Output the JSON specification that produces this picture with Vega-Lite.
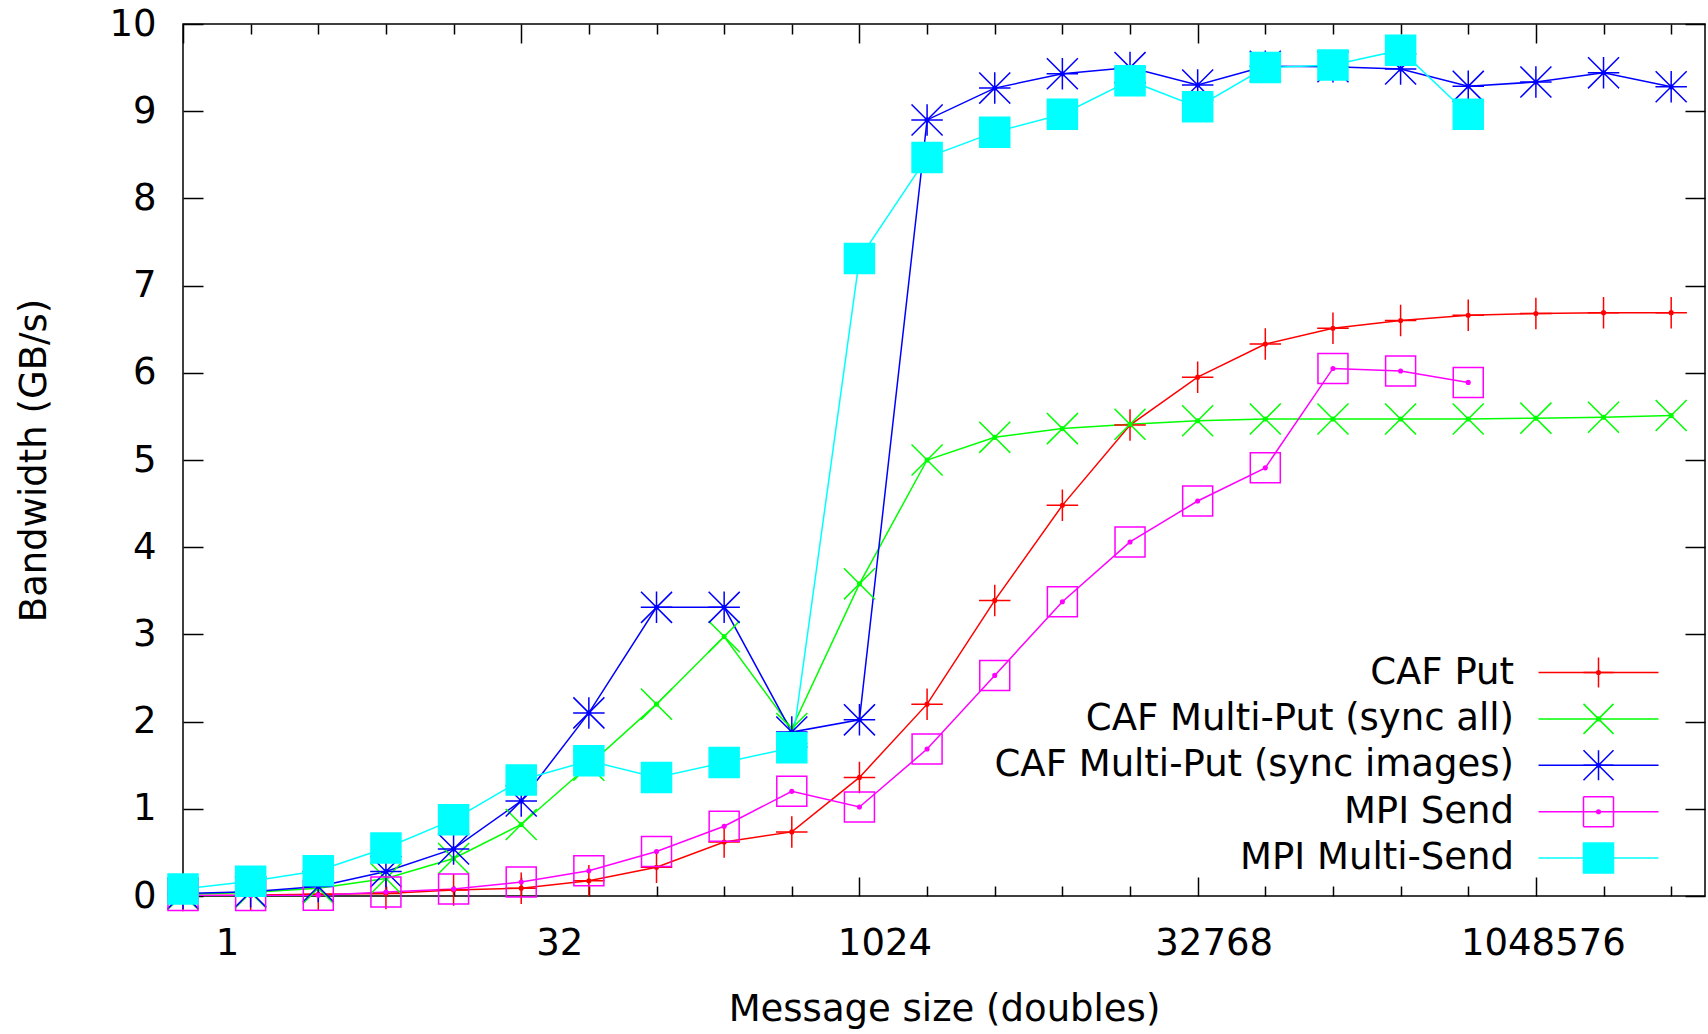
{
  "$schema": "https://vega.github.io/schema/vega-lite/v6.json",
  "width": 1522,
  "height": 872,
  "autosize": {"type": "none"},
  "padding": {"left": 183, "top": 24, "right": 3, "bottom": 138},
  "background": "white",
  "config": {
    "font": "DejaVu Sans",
    "view": {"stroke": "black", "strokeWidth": 1.5},
    "axis": {
      "labelFont": "DejaVu Sans", "labelFontSize": 37, "labelColor": "black",
      "titleFont": "DejaVu Sans", "titleFontSize": 37, "titleFontWeight": "normal", "titleColor": "black",
      "tickColor": "black", "tickWidth": 1.5, "domain": false, "grid": false, "labelOverlap": false
    }
  },
  "datasets": {
    "bw": [
      {"size":1,"series":"CAF Put","bw":0.005},{"size":2,"series":"CAF Put","bw":0.01},{"size":4,"series":"CAF Put","bw":0.02},{"size":8,"series":"CAF Put","bw":0.03},{"size":16,"series":"CAF Put","bw":0.07},{"size":32,"series":"CAF Put","bw":0.09},{"size":64,"series":"CAF Put","bw":0.175},{"size":128,"series":"CAF Put","bw":0.33},{"size":256,"series":"CAF Put","bw":0.62},{"size":512,"series":"CAF Put","bw":0.735},{"size":1024,"series":"CAF Put","bw":1.36},{"size":2048,"series":"CAF Put","bw":2.2},{"size":4096,"series":"CAF Put","bw":3.39},{"size":8192,"series":"CAF Put","bw":4.48},{"size":16384,"series":"CAF Put","bw":5.4},{"size":32768,"series":"CAF Put","bw":5.95},{"size":65536,"series":"CAF Put","bw":6.33},{"size":131072,"series":"CAF Put","bw":6.51},{"size":262144,"series":"CAF Put","bw":6.6},{"size":524288,"series":"CAF Put","bw":6.66},{"size":1048576,"series":"CAF Put","bw":6.68},{"size":2097152,"series":"CAF Put","bw":6.69},{"size":4194304,"series":"CAF Put","bw":6.69},
      {"size":1,"series":"CAF Multi-Put (sync all)","bw":0.02},{"size":2,"series":"CAF Multi-Put (sync all)","bw":0.04},{"size":4,"series":"CAF Multi-Put (sync all)","bw":0.09},{"size":8,"series":"CAF Multi-Put (sync all)","bw":0.2},{"size":16,"series":"CAF Multi-Put (sync all)","bw":0.43},{"size":32,"series":"CAF Multi-Put (sync all)","bw":0.82},{"size":64,"series":"CAF Multi-Put (sync all)","bw":1.5},{"size":128,"series":"CAF Multi-Put (sync all)","bw":2.2},{"size":256,"series":"CAF Multi-Put (sync all)","bw":2.975},{"size":512,"series":"CAF Multi-Put (sync all)","bw":1.92},{"size":1024,"series":"CAF Multi-Put (sync all)","bw":3.58},{"size":2048,"series":"CAF Multi-Put (sync all)","bw":5.0},{"size":4096,"series":"CAF Multi-Put (sync all)","bw":5.26},{"size":8192,"series":"CAF Multi-Put (sync all)","bw":5.36},{"size":16384,"series":"CAF Multi-Put (sync all)","bw":5.41},{"size":32768,"series":"CAF Multi-Put (sync all)","bw":5.45},{"size":65536,"series":"CAF Multi-Put (sync all)","bw":5.47},{"size":131072,"series":"CAF Multi-Put (sync all)","bw":5.47},{"size":262144,"series":"CAF Multi-Put (sync all)","bw":5.47},{"size":524288,"series":"CAF Multi-Put (sync all)","bw":5.47},{"size":1048576,"series":"CAF Multi-Put (sync all)","bw":5.48},{"size":2097152,"series":"CAF Multi-Put (sync all)","bw":5.49},{"size":4194304,"series":"CAF Multi-Put (sync all)","bw":5.51},
      {"size":1,"series":"CAF Multi-Put (sync images)","bw":0.03},{"size":2,"series":"CAF Multi-Put (sync images)","bw":0.05},{"size":4,"series":"CAF Multi-Put (sync images)","bw":0.11},{"size":8,"series":"CAF Multi-Put (sync images)","bw":0.28},{"size":16,"series":"CAF Multi-Put (sync images)","bw":0.54},{"size":32,"series":"CAF Multi-Put (sync images)","bw":1.09},{"size":64,"series":"CAF Multi-Put (sync images)","bw":2.1},{"size":128,"series":"CAF Multi-Put (sync images)","bw":3.31},{"size":256,"series":"CAF Multi-Put (sync images)","bw":3.31},{"size":512,"series":"CAF Multi-Put (sync images)","bw":1.88},{"size":1024,"series":"CAF Multi-Put (sync images)","bw":2.02},{"size":2048,"series":"CAF Multi-Put (sync images)","bw":8.9},{"size":4096,"series":"CAF Multi-Put (sync images)","bw":9.265},{"size":8192,"series":"CAF Multi-Put (sync images)","bw":9.43},{"size":16384,"series":"CAF Multi-Put (sync images)","bw":9.5},{"size":32768,"series":"CAF Multi-Put (sync images)","bw":9.3},{"size":65536,"series":"CAF Multi-Put (sync images)","bw":9.515},{"size":131072,"series":"CAF Multi-Put (sync images)","bw":9.51},{"size":262144,"series":"CAF Multi-Put (sync images)","bw":9.485},{"size":524288,"series":"CAF Multi-Put (sync images)","bw":9.285},{"size":1048576,"series":"CAF Multi-Put (sync images)","bw":9.335},{"size":2097152,"series":"CAF Multi-Put (sync images)","bw":9.44},{"size":4194304,"series":"CAF Multi-Put (sync images)","bw":9.28},
      {"size":1,"series":"MPI Send","bw":0.005},{"size":2,"series":"MPI Send","bw":0.005},{"size":4,"series":"MPI Send","bw":0.01},{"size":8,"series":"MPI Send","bw":0.045},{"size":16,"series":"MPI Send","bw":0.08},{"size":32,"series":"MPI Send","bw":0.16},{"size":64,"series":"MPI Send","bw":0.29},{"size":128,"series":"MPI Send","bw":0.51},{"size":256,"series":"MPI Send","bw":0.8},{"size":512,"series":"MPI Send","bw":1.2},{"size":1024,"series":"MPI Send","bw":1.02},{"size":2048,"series":"MPI Send","bw":1.685},{"size":4096,"series":"MPI Send","bw":2.53},{"size":8192,"series":"MPI Send","bw":3.375},{"size":16384,"series":"MPI Send","bw":4.06},{"size":32768,"series":"MPI Send","bw":4.53},{"size":65536,"series":"MPI Send","bw":4.91},{"size":131072,"series":"MPI Send","bw":6.05},{"size":262144,"series":"MPI Send","bw":6.02},{"size":524288,"series":"MPI Send","bw":5.89},
      {"size":1,"series":"MPI Multi-Send","bw":0.08},{"size":2,"series":"MPI Multi-Send","bw":0.17},{"size":4,"series":"MPI Multi-Send","bw":0.29},{"size":8,"series":"MPI Multi-Send","bw":0.55},{"size":16,"series":"MPI Multi-Send","bw":0.875},{"size":32,"series":"MPI Multi-Send","bw":1.33},{"size":64,"series":"MPI Multi-Send","bw":1.55},{"size":128,"series":"MPI Multi-Send","bw":1.36},{"size":256,"series":"MPI Multi-Send","bw":1.53},{"size":512,"series":"MPI Multi-Send","bw":1.7},{"size":1024,"series":"MPI Multi-Send","bw":7.31},{"size":2048,"series":"MPI Multi-Send","bw":8.47},{"size":4096,"series":"MPI Multi-Send","bw":8.76},{"size":8192,"series":"MPI Multi-Send","bw":8.965},{"size":16384,"series":"MPI Multi-Send","bw":9.35},{"size":32768,"series":"MPI Multi-Send","bw":9.05},{"size":65536,"series":"MPI Multi-Send","bw":9.5},{"size":131072,"series":"MPI Multi-Send","bw":9.53},{"size":262144,"series":"MPI Multi-Send","bw":9.7},{"size":524288,"series":"MPI Multi-Send","bw":8.965}
    ]
  },
  "data": {"name": "bw"},
  "layer": [
    {
      "mark": {"type": "line", "strokeWidth": 1.5, "clip": true},
      "encoding": {
        "x": {
          "field": "size", "type": "quantitative",
          "scale": {"type": "log", "base": 2, "domain": [1, 5931642], "nice": false},
          "axis": {
            "orient": "bottom",
            "values": [1,2,4,8,16,32,64,128,256,512,1024,2048,4096,8192,16384,32768,65536,131072,262144,524288,1048576,2097152,4194304],
            "labelExpr": "indexof([1,32,1024,32768,1048576], datum.value) >= 0 ? format(datum.value, 'd') : ''",
            "tickSize": {"condition": {"test": "indexof([1,32,1024,32768,1048576], datum.value) >= 0", "value": -19}, "value": -10},
            "labelPadding": 48,
            "labelFlush": false,
            "labelOffset": {"condition": [
              {"test": "datum.value == 1", "value": 44},
              {"test": "datum.value == 32", "value": 38},
              {"test": "datum.value == 1024", "value": 25},
              {"test": "datum.value == 32768", "value": 16}
            ], "value": 7},
            "title": "Message size (doubles)",
            "titlePadding": 21
          }
        },
        "y": {
          "field": "bw", "type": "quantitative",
          "scale": {"domain": [0, 10], "nice": false},
          "axis": {
            "orient": "left",
            "values": [0,1,2,3,4,5,6,7,8,9,10],
            "format": "d",
            "tickSize": -20,
            "labelPadding": 47,
            "title": "Bandwidth (GB/s)",
            "titlePadding": 55
          }
        },
        "color": {
          "field": "series", "type": "nominal",
          "scale": {
            "domain": ["CAF Put", "CAF Multi-Put (sync all)", "CAF Multi-Put (sync images)", "MPI Send", "MPI Multi-Send"],
            "range": ["#ff0000", "#00ff00", "#0000ff", "#ff00ff", "#00ffff"]
          },
          "legend": {
            "orient": "none", "legendX": 1397, "legendY": 630, "title": null,
            "symbolType": "M-4,0L4,0", "symbolSize": 900, "symbolStrokeWidth": 1.5,
            "labelAlign": "right", "labelOffset": -103, "labelFontSize": 37, "labelFont": "DejaVu Sans",
            "labelColor": "black", "labelLimit": 1000, "rowPadding": 8.4, "padding": 0
          }
        }
      }
    },
    {
      "mark": {"type": "point", "strokeWidth": 1.5, "size": 900, "opacity": 1, "clip": false, "strokeCap": "square"},
      "encoding": {
        "x": {
          "field": "size", "type": "quantitative",
          "axis": {
            "orient": "top",
            "values": [1,2,4,8,16,32,64,128,256,512,1024,2048,4096,8192,16384,32768,65536,131072,262144,524288,1048576,2097152,4194304],
            "labels": false,
            "tickSize": {"condition": {"test": "indexof([1,32,1024,32768,1048576], datum.value) >= 0", "value": -19}, "value": -10},
            "title": null
          }
        },
        "y": {
          "field": "bw", "type": "quantitative",
          "axis": {"orient": "right", "values": [0,1,2,3,4,5,6,7,8,9,10], "labels": false, "tickSize": -20, "title": null}
        },
        "shape": {
          "field": "series", "type": "nominal",
          "scale": {
            "domain": ["CAF Put", "CAF Multi-Put (sync all)", "CAF Multi-Put (sync images)", "MPI Send", "MPI Multi-Send", " "],
            "range": [
              "M-1,0L1,0M0,-1L0,1M0.12,0A0.12,0.12,0,1,1,-0.12,0A0.12,0.12,0,1,1,0.12,0Z",
              "M-1,-1L1,1M-1,1L1,-1M0.12,0A0.12,0.12,0,1,1,-0.12,0A0.12,0.12,0,1,1,0.12,0Z",
              "M-1,0L1,0M0,-1L0,1M-1,-1L1,1M-1,1L1,-1M0.12,0A0.12,0.12,0,1,1,-0.12,0A0.12,0.12,0,1,1,0.12,0Z",
              "M-1,-1L1,-1M1,-1L1,1M1,1L-1,1M-1,1L-1,-1M0.12,0A0.12,0.12,0,1,1,-0.12,0A0.12,0.12,0,1,1,0.12,0Z",
              "M-1,-1L1,-1L1,1L-1,1Z",
              "M0,0"
            ]
          },
          "legend": {
            "orient": "none", "legendX": 1397, "legendY": 630, "title": null,
            "symbolSize": 900, "symbolStrokeWidth": 1.5,
            "labelAlign": "right", "labelOffset": -103, "labelFontSize": 37, "labelFont": "DejaVu Sans",
            "labelOpacity": 0, "labelLimit": 1000, "rowPadding": 8.4, "padding": 0
          }
        },
        "fill": {
          "field": "series", "type": "nominal",
          "scale": {
            "domain": ["CAF Put", "CAF Multi-Put (sync all)", "CAF Multi-Put (sync images)", "MPI Send", "MPI Multi-Send", " "],
            "range": ["#ff0000", "#00ff00", "#0000ff", "#ff00ff", "#00ffff", "transparent"]
          }
        },
        "stroke": {
          "field": "series", "type": "nominal",
          "scale": {
            "domain": ["CAF Put", "CAF Multi-Put (sync all)", "CAF Multi-Put (sync images)", "MPI Send", "MPI Multi-Send", " "],
            "range": ["#ff0000", "#00ff00", "#0000ff", "#ff00ff", "#00ffff", "transparent"]
          }
        }
      }
    }
  ],
  "resolve": {"axis": {"x": "independent", "y": "independent"}}
}
